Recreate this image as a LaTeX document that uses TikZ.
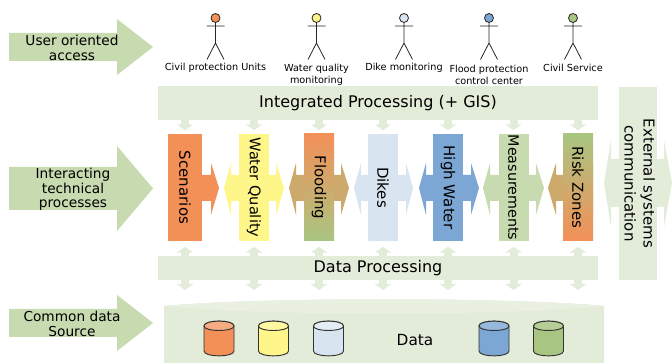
\documentclass[tikz,border=0pt]{standalone}
\usepackage{fontspec}
\usepackage{graphicx}
\setmainfont{DejaVu Sans}
\usetikzlibrary{arrows.meta}
\definecolor{orangeC}{HTML}{F39058}
\definecolor{yellowC}{HTML}{FFF68A}
\definecolor{paleblue}{HTML}{D8E4F0}
\definecolor{blueC}{HTML}{7CA6D3}
\definecolor{sage}{HTML}{C8DAAF}
\definecolor{greenC}{HTML}{A9C582}
\definecolor{tanC}{HTML}{CDA96B}
\definecolor{panel}{HTML}{E3ECD9}
\definecolor{panelhi}{HTML}{E9F0E1}
\newcommand{\pxfont}[2]{\fontsize{\dimexpr#1pt*3/4\relax}{\dimexpr#2pt*3/4\relax}\selectfont}
\newcommand{\leftright}[5]{% x0 xb0 xb1 x1 fill
  \fill[#5] (#1,188) -- (#2,163) -- (#2,175) -- (#3,175) -- (#3,163) -- (#4,188) -- (#3,215) -- (#3,201) -- (#2,201) -- (#2,215) -- cycle;}
\newcommand{\bigarrow}[4]{% yc shaft head colour
  \fill[#4] (9,#1-#2) -- (117,#1-#2) -- (117,#1-#3) -- (153,#1) -- (117,#1+#3) -- (117,#1+#2) -- (9,#1+#2) -- cycle;}
\newcommand{\actor}[2]{%
  \draw[stick] (#1,22.5) -- (#1,43) (#1-9,26) -- (#1+9,26) (#1-8.5,59.5) -- (#1,43) -- (#1+8.5,59.5);
  \draw[stick,fill=#2] (#1,18) circle (4.5);}
\newcommand{\drum}[3]{%
  \path[fill=#2,draw=black!80,line width=0.7pt] (#1-15,326) -- (#1-15,351) .. controls (#1-15,357.5) and (#1+15,357.5) .. (#1+15,351) -- (#1+15,326) .. controls (#1+15,319.5) and (#1-15,319.5) .. (#1-15,326) -- cycle;
  \path[fill=#3,draw=black!80,line width=0.7pt] (#1-15,326) .. controls (#1-15,319.5) and (#1+15,319.5) .. (#1+15,326) .. controls (#1+15,332) and (#1-15,332) .. (#1-15,326) -- cycle;}
\tikzset{
  x=0.75pt,y=-0.75pt,
  panelbox/.style={fill=panel,inner sep=0pt,text=black},
  colbox/.style={inner sep=0pt,minimum width=22.5pt,minimum height=80.25pt,text=black,font=\pxfont{15}{17}},
  biglabel/.style={align=center,font=\pxfont{13.7}{14.5},text=black,inner sep=0pt},
  actorlabel/.style={align=center,font=\pxfont{9.7}{12},text=black,inner sep=0pt},
  stick/.style={draw=black!85,line width=0.6pt},
  flow/.style={draw=panel,line width=6pt,-{Triangle[length=4.5pt,width=12.5pt]}},
}
\begin{document}
\begin{tikzpicture}
\useasboundingbox (0,0) rectangle (672,363);
% left arrows
\bigarrow{47}{14}{28}{sage}
\bigarrow{188.5}{21.5}{42.5}{sage}
\bigarrow{323}{14}{28}{sage}
\node[biglabel] (l1) at (72,48) {User oriented\\access};
\node[biglabel] (l2) at (73,189.5) {Interacting\\technical\\processes};
\node[biglabel] (l3) at (72,324) {Common data\\Source};
% actors
\actor{215.5}{orangeC}
\actor{316.5}{yellowC}
\actor{404}{paleblue}
\actor{489}{blueC}
\actor{573}{greenC}
\node[actorlabel] (a1) at (215.5,68) {Civil protection Units};
\node[actorlabel] (a2) at (316.5,74.5) {Water quality\\monitoring};
\node[actorlabel] (a3) at (404,68) {Dike monitoring};
\node[actorlabel] (a4) at (489,74.5) {Flood protection\\control center};
\node[actorlabel] (a5) at (573,68) {Civil Service};
% external
\fill[panel] (604,183) -- (611,140) -- (611,159) -- (664,159) -- (664,140) -- (672,183) -- (664,227) -- (664,207) -- (611,207) -- (611,227) -- cycle;
\node[panelbox,minimum width=27pt,minimum height=144.75pt] (ext) at (638,183.5) {\rotatebox{-90}{\pxfont{15}{19}\begin{tabular}{@{}c@{}}External systems\\communication\end{tabular}}};
% column crossbars
\leftright{168}{168}{211}{219}{orangeC}
\leftright{224}{231}{276}{284}{yellowC}
\leftright{289}{296}{341}{349}{tanC}
\leftright{354}{361}{406}{413}{paleblue}
\leftright{419}{426}{471}{479}{blueC}
\leftright{483}{490}{536}{544}{sage}
\leftright{548}{556}{593}{593}{tanC}
% columns
\node[colbox,fill=orangeC,minimum width=25.5pt] (sc) at (185,187.5) {\rotatebox{-90}{Scenarios}};
\node[colbox,fill=yellowC] (wq) at (254,187.5) {\rotatebox{-90}{\pxfont{14.6}{17}Water Quality}};
\node[colbox,top color=orangeC,bottom color=greenC] (fl) at (319,187.5) {\rotatebox{-90}{Flooding}};
\node[colbox,fill=paleblue] (di) at (383,187.5) {\rotatebox{-90}{Dikes}};
\node[colbox,fill=blueC] (hw) at (448,187.5) {\rotatebox{-90}{High Water}};
\node[colbox,fill=sage] (me) at (513.5,187.5) {\rotatebox{-90}{\pxfont{14.3}{17}Measurements}};
\node[colbox,top color=greenC,bottom color=orangeC] (rz) at (578,187.5) {\rotatebox{-90}{Risk Zones}};
% panels
\node[panelbox,minimum width=330pt,minimum height=25.5pt,font=\pxfont{16}{19}] (ip) at (378,103) {\raisebox{-1.2pt}{Integrated Processing (+ GIS)}};
\node[panelbox,minimum width=330pt,minimum height=18pt,font=\pxfont{16}{19}] (dp) at (378,268) {\raisebox{-1.2pt}{Data Processing}};
% data store
\fill[panel] (164,306) .. controls (260,297) and (510,297) .. (604,306) -- (604,363) -- (164,363) -- cycle;
\fill[panelhi] (164,306) .. controls (260,297) and (510,297) .. (604,306) .. controls (510,316) and (260,316) .. cycle;
\coordinate (dtop) at (378,290);
\node[inner sep=0pt,font=\pxfont{15.3}{18}] (dt) at (415,340) {Data};
\drum{219}{orangeC}{orangeC!75!white}
\drum{273.5}{yellowC}{yellowC!80!white}
\drum{328.5}{paleblue}{paleblue!70!white}
\drum{494}{blueC}{blueC!80!white}
\drum{548.5}{greenC}{greenC!85!white}
% small flows
\foreach \c in {sc,wq,fl,di,hw,me,rz}{
  \draw[flow] (ip.south -| \c) -- ++(0,10);
  \draw[flow] (dp.north -| \c) -- ++(0,-9);
  \draw[flow] (dp.south -| \c) -- (dtop -| \c);
}
\end{tikzpicture}
\end{document}
